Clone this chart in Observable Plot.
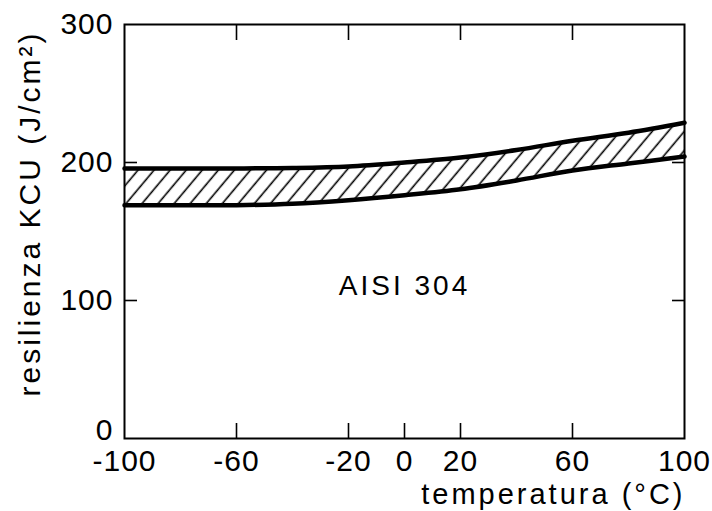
<!DOCTYPE html>
<html>
<head>
<meta charset="utf-8">
<script src="https://cdn.jsdelivr.net/npm/d3@7"></script>
<script src="https://cdn.jsdelivr.net/npm/@observablehq/plot@0.6"></script>
<style>
  html, body { margin: 0; padding: 0; background: #fff; }
</style>
</head>
<body>
<div id="chart"></div>
<script>
// ---- data ----
const temps = [-100, -80, -60, -40, -20, 0, 20, 40, 60, 80, 100];
const upper = [195.7, 195.7, 195.7, 196.0, 197.1, 200, 203.6, 209, 215.8, 221.6, 228.8];
const lower = [169.1, 169.1, 169.1, 170.1, 172.7, 176.3, 180.6, 187, 194.2, 199.3, 204.3];

const xTickLabels = [-100, -60, -20, 0, 20, 60, 100];
const xTicksBottom = [-60, -20, 0, 20, 60];
const xTicksTop = [-60, -20, 20, 60];
const yTickLabels = [100, 200, 300];
const yTickLabelZero = [0];
const yTicksLeft = [100, 200];
const yTicksRight = [100, 200];

const xLabel = "temperatura (°C)";
const yLabel = "resilienza KCU (J/cm²)";
const annotation = [{x: 0, y: 104, text: "AISI 304"}];

const data = temps.map((t, i) => ({t, lo: lower[i], hi: upper[i]}));

const FONT = "'Liberation Sans', Arial, Helvetica, sans-serif";
const tickStroke = 1.6;

const plot = Plot.plot({
  width: 712,
  height: 511,
  marginLeft: 124,
  marginRight: 28,
  marginTop: 24,
  marginBottom: 73,
  style: {fontFamily: FONT, color: "#000", background: "#fff", letterSpacing: "1px"},
  x: {domain: [-100, 100], label: null},
  y: {domain: [0, 300], label: null},
  marks: [
    Plot.areaY(data, {x: "t", y1: "lo", y2: "hi", fill: "url(#hatch)", curve: "catmull-rom"}),
    Plot.line(data, {x: "t", y: "hi", stroke: "#000", strokeWidth: 4.5, curve: "catmull-rom"}),
    Plot.line(data, {x: "t", y: "lo", stroke: "#000", strokeWidth: 4.5, curve: "catmull-rom"}),
    Plot.frame({stroke: "#000", strokeWidth: 2}),
    // x tick labels (no tick lines)
    Plot.axisX(xTickLabels, {anchor: "bottom", tickSize: 0, tickPadding: 11, fontSize: 30, label: null, tickFormat: d => String(d)}),
    // inward ticks bottom / top
    Plot.axisX(xTicksBottom, {anchor: "bottom", tickSize: -15, strokeWidth: tickStroke, tickFormat: () => "", label: null}),
    Plot.axisX(xTicksTop, {anchor: "top", tickSize: -15, strokeWidth: tickStroke, tickFormat: () => "", label: null}),
    // y tick labels
    Plot.axisY(yTickLabels, {anchor: "left", tickSize: 0, tickPadding: 11, fontSize: 30, label: null, tickFormat: d => String(d)}),
    Plot.axisY(yTickLabelZero, {anchor: "left", tickSize: 0, tickPadding: 11, fontSize: 30, dy: -8, label: null, tickFormat: d => String(d)}),
    Plot.axisY(yTicksLeft, {anchor: "left", tickSize: -13, strokeWidth: tickStroke, tickFormat: () => "", label: null}),
    Plot.axisY(yTicksRight, {anchor: "right", tickSize: -13, strokeWidth: tickStroke, tickFormat: () => "", label: null}),
    // annotation
    Plot.text(annotation, {x: "x", y: "y", text: "text", fontSize: 28, textAnchor: "middle", lineAnchor: "bottom", fill: "#000"}),
    // axis titles
    Plot.text([xLabel], {text: d => d, frameAnchor: "bottom-right", textAnchor: "end", lineAnchor: "bottom", dy: 65, dx: 1, fontSize: 29, fill: "#000"}),
    Plot.text([yLabel], {text: d => d, frameAnchor: "left", rotate: -90, textAnchor: "middle", lineAnchor: "bottom", dx: -84.5, dy: -18, fontSize: 30, fill: "#000"})
  ]
});

// hatch pattern definition
const ns = "http://www.w3.org/2000/svg";
const defs = document.createElementNS(ns, "defs");
const pat = document.createElementNS(ns, "pattern");
pat.setAttribute("id", "hatch");
pat.setAttribute("patternUnits", "userSpaceOnUse");
pat.setAttribute("width", "12.3");
pat.setAttribute("height", "12.3");
pat.setAttribute("patternTransform", "rotate(40)");
const bg = document.createElementNS(ns, "rect");
bg.setAttribute("width", "12.3");
bg.setAttribute("height", "12.3");
bg.setAttribute("fill", "#fff");
const ln = document.createElementNS(ns, "line");
ln.setAttribute("x1", "6");
ln.setAttribute("x2", "6");
ln.setAttribute("y1", "-1");
ln.setAttribute("y2", "13.3");
ln.setAttribute("stroke", "#000");
ln.setAttribute("stroke-width", "1.6");
pat.appendChild(bg);
pat.appendChild(ln);
defs.appendChild(pat);
plot.insertBefore(defs, plot.firstChild);

// wider tracking for the titles and annotation, as in the reference
const wide = new Set([xLabel, yLabel, annotation[0].text]);
plot.querySelectorAll("text").forEach(t => {
  if (wide.has(t.textContent)) t.style.letterSpacing = "3px";
});

document.getElementById("chart").appendChild(plot);
</script>
</body>
</html>
